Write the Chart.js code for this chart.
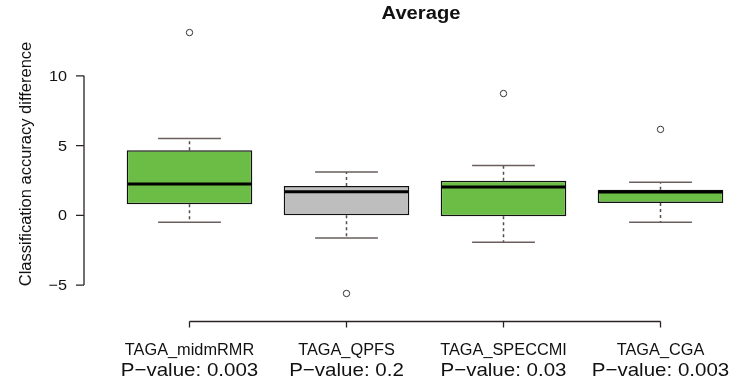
<!DOCTYPE html>
<html>
<head>
<meta charset="utf-8">
<script src="https://cdn.jsdelivr.net/npm/chart.js@4.4.0/dist/chart.umd.min.js"></script>
<style>
  body { margin: 0; background: #fff; }
  #boxChart { display: block; }
</style>
</head>
<body>
<canvas id="boxChart" width="744" height="385"></canvas>
<script>
    "use strict";

    // box statistics
    const labels = ['TAGA_midmRMR', 'TAGA_QPFS', 'TAGA_SPECCMI', 'TAGA_CGA'];
    const pValues = ['0.003', '0.2', '0.03', '0.003'];
    const q1 = [0.8, 0.0, -0.07, 0.89];
    const median = [2.24, 1.7, 2.03, 1.67];
    const q3 = [4.67, 2.1, 2.48, 1.84];
    const whiskerLow = [-0.49, -1.62, -1.93, -0.5];
    const whiskerHigh = [5.5, 3.1, 3.58, 2.37];
    const outliers = [13.1, -5.6, 8.73, 6.16];
    const yTicks = [-5, 0, 5, 10];
    const boxColors = ['#6cbd45', '#bebebe', '#6cbd45', '#6cbd45'];

    const FONT = '"Liberation Sans", Arial, Helvetica, sans-serif';

    // text slightly wider than tall, like the original export
    function wideText(ctx, txt, x, y, sx) {
        ctx.save();
        ctx.translate(x, y);
        ctx.scale(sx, 1);
        ctx.fillText(txt, 0, 0);
        ctx.restore();
    }

    // draws whiskers, medians, axes and all the R-style text
    const boxplotExtras = {
        id: 'boxplotExtras',
        beforeDatasetsDraw(chart) {
            const ctx = chart.ctx;
            const xs = chart.scales.x, ys = chart.scales.y;
            const bars = chart.getDatasetMeta(0).data;
            ctx.save();
            for (let i = 0; i < labels.length; i++) {
                const cx = xs.getPixelForValue(i);
                const capHalf = bars[i].width / 4;
                ctx.strokeStyle = '#564a4a';
                ctx.lineWidth = 1.5;
                // dashed stems
                ctx.setLineDash([3, 3]);
                ctx.beginPath();
                ctx.moveTo(cx, ys.getPixelForValue(q3[i]));
                ctx.lineTo(cx, ys.getPixelForValue(whiskerHigh[i]));
                ctx.moveTo(cx, ys.getPixelForValue(q1[i]));
                ctx.lineTo(cx, ys.getPixelForValue(whiskerLow[i]));
                ctx.stroke();
                // caps
                ctx.setLineDash([]);
                ctx.strokeStyle = '#6a5e5e';
                ctx.beginPath();
                [whiskerHigh[i], whiskerLow[i]].forEach(function (v) {
                    const py = ys.getPixelForValue(v);
                    ctx.moveTo(cx - capHalf, py);
                    ctx.lineTo(cx + capHalf, py);
                });
                ctx.stroke();
            }
            ctx.restore();
        },
        afterDatasetsDraw(chart) {
            const ctx = chart.ctx;
            const xs = chart.scales.x, ys = chart.scales.y;
            const bars = chart.getDatasetMeta(0).data;
            ctx.save();
            // medians
            ctx.strokeStyle = '#000';
            ctx.lineWidth = 3;
            for (let i = 0; i < labels.length; i++) {
                const cx = xs.getPixelForValue(i);
                const half = bars[i].width / 2;
                const py = ys.getPixelForValue(median[i]);
                ctx.beginPath();
                ctx.moveTo(cx - half + 1, py);
                ctx.lineTo(cx + half - 1, py);
                ctx.stroke();
            }

            // y axis
            const axisX = 84;
            ctx.strokeStyle = '#2a2222';
            ctx.lineWidth = 1.3;
            ctx.beginPath();
            ctx.moveTo(axisX, ys.getPixelForValue(yTicks[0]));
            ctx.lineTo(axisX, ys.getPixelForValue(yTicks[yTicks.length - 1]));
            yTicks.forEach(function (t) {
                const py = ys.getPixelForValue(t);
                ctx.moveTo(axisX, py);
                ctx.lineTo(axisX - 8, py);
            });
            ctx.stroke();
            ctx.fillStyle = '#111';
            ctx.font = '15px ' + FONT;
            ctx.textAlign = 'right';
            ctx.textBaseline = 'middle';
            yTicks.forEach(function (t) {
                wideText(ctx, t < 0 ? '\u2212' + Math.abs(t) : String(t), 67, ys.getPixelForValue(t) + 1, 1.08);
            });

            // x axis
            const axisY = chart.chartArea.bottom + 1.5;
            ctx.beginPath();
            ctx.moveTo(xs.getPixelForValue(0), axisY);
            ctx.lineTo(xs.getPixelForValue(labels.length - 1), axisY);
            for (let i = 0; i < labels.length; i++) {
                const cx = xs.getPixelForValue(i);
                ctx.moveTo(cx, axisY);
                ctx.lineTo(cx, axisY + 6);
            }
            ctx.stroke();
            ctx.textAlign = 'center';
            ctx.textBaseline = 'alphabetic';
            for (let i = 0; i < labels.length; i++) {
                const cx = xs.getPixelForValue(i);
                ctx.font = '16px ' + FONT;
                wideText(ctx, labels[i], cx, 355, 1.02);
                ctx.font = '19px ' + FONT;
                wideText(ctx, 'P\u2212value: ' + pValues[i], cx, 376, 1.08);
            }

            // y title
            ctx.save();
            ctx.translate(31, 164);
            ctx.rotate(-Math.PI / 2);
            ctx.font = '16.5px ' + FONT;
            ctx.textAlign = 'center';
            ctx.fillText('Classification accuracy difference', 0, 0);
            ctx.restore();

            // main title
            ctx.font = 'bold 18px ' + FONT;
            ctx.textAlign = 'center';
            wideText(ctx, 'Average', (xs.getPixelForValue(0) + xs.getPixelForValue(labels.length - 1)) / 2 - 4, 19, 1.12);
            ctx.restore();
        }
    };

    const ctx = document.getElementById('boxChart').getContext('2d');
    const chart = new Chart(ctx, {
        data: {
            labels: labels,
            datasets: [
                {
                    type: 'bar',
                    label: 'box',
                    data: q1.map((v, i) => [v, q3[i]]),
                    backgroundColor: boxColors,
                    borderColor: '#111',
                    borderWidth: 1.5,
                    borderSkipped: false,
                    barPercentage: 0.8,
                    categoryPercentage: 1.0,
                    order: 2
                },
                {
                    type: 'line',
                    label: 'outliers',
                    data: outliers,
                    showLine: false,
                    pointStyle: 'circle',
                    pointRadius: 3.2,
                    pointBorderWidth: 1,
                    pointBorderColor: '#333',
                    pointBackgroundColor: 'rgba(0,0,0,0)',
                    order: 1
                }
            ]
        },
        options: {
            responsive: false,
            animation: false,
            layout: {
                padding: { top: 20, bottom: 65, left: 111, right: 5 }
            },
            plugins: {
                legend: { display: false },
                tooltip: { enabled: false }
            },
            scales: {
                x: { type: 'category', offset: true, display: false },
                y: { min: -7.5, max: 14, display: false }
            }
        },
        plugins: [boxplotExtras]
    });
</script>
</body>
</html>
